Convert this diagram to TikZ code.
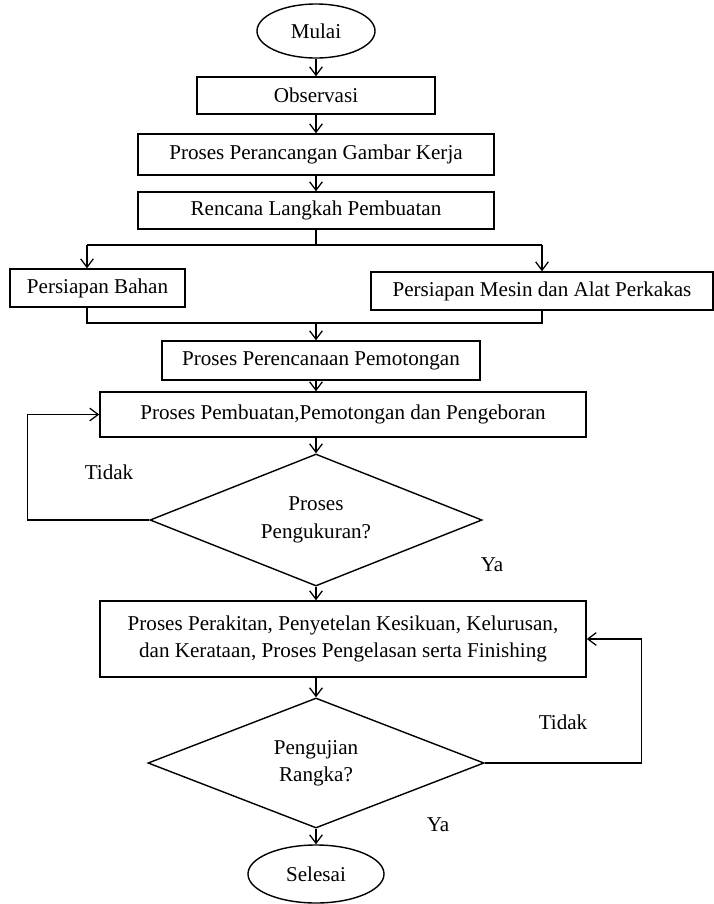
\documentclass[tikz,border=0pt]{standalone}
\usepackage{fontspec}
\setmainfont{Liberation Serif}
\usetikzlibrary{shapes.geometric, arrows.meta, positioning, calc}

\tikzset{
  box/.style={draw, line width=1pt, inner sep=2pt, align=center},
  terminal/.style={ellipse, draw, line width=1pt, inner sep=0pt},
  decision/.style={diamond, draw, line width=1pt, aspect=2.5, inner sep=0pt, align=center},
  arr/.style={-{Straight Barb[length=6pt, width=9pt]}, line width=0.9pt},
  link/.style={line width=0.9pt}
}

\begin{document}
\begin{tikzpicture}[x=0.025cm, y=-0.025cm, font=\fontsize{15}{19.5}\selectfont]
  \useasboundingbox (0,0) rectangle (714,904);
  % Start and first steps
  \node[terminal, minimum width=2.95cm, minimum height=1.35cm] (mulai) at (316,31) {Mulai};
  \node[box, minimum width=5.95cm, minimum height=0.925cm] (obs) at (316,95.5) {Observasi};
  \node[box, minimum width=8.9cm, minimum height=1.025cm] (gambar) at (316,154.5) {Proses Perancangan Gambar Kerja};
  \node[box, minimum width=8.9cm, minimum height=0.925cm] (rencana) at (316,210.5) {Rencana Langkah Pembuatan};
  % Preparation branches
  \node[box, minimum width=4.375cm, minimum height=0.95cm] (bahan) at (97.5,288) {Persiapan Bahan};
  \node[box, minimum width=8.55cm, minimum height=0.95cm] (mesin) at (542,291) {Persiapan Mesin dan Alat Perkakas};
  % Cutting and measuring
  \node[box, minimum width=7.95cm, minimum height=0.975cm] (potong) at (321,360.5) {Proses Perencanaan Pemotongan};
  \node[box, minimum width=12.15cm, minimum height=1.125cm] (buat) at (343,414.5) {Proses Pembuatan,Pemotongan dan Pengeboran};
  \node[decision, minimum width=8.3cm, minimum height=3.3cm] (ukur) at (316,520) {Proses\\Pengukuran?};
  % Assembly and test
  \node[box, minimum width=12.15cm, minimum height=1.9cm] (rakit) at (343,639) {Proses Perakitan, Penyetelan Kesikuan, Kelurusan,\\dan Kerataan, Proses Pengelasan serta Finishing};
  \node[decision, minimum width=8.4cm, minimum height=3.25cm] (uji) at (316,763) {Pengujian\\Rangka?};
  \node[terminal, minimum width=3.4cm, minimum height=1.45cm] (selesai) at (316,874) {Selesai};

  % Labels
  \node (tidakA) at (109,472) {Tidak};
  \node (yaA) at (492,565) {Ya};
  \node (tidakB) at (563,722) {Tidak};
  \node (yaB) at (438,825) {Ya};

  % Connectors
  \draw[arr] (mulai) -- (obs);
  \draw[arr] (obs) -- (gambar);
  \draw[arr] (gambar) -- (rencana);
  \coordinate (splitL) at (87,245);
  \coordinate (splitR) at (542,245);
  \draw[link] (rencana) -- (rencana |- splitL);
  \draw[link] (splitL) -- (splitR);
  \draw[arr] (splitL) -- (splitL |- bahan.north);
  \draw[arr] (splitR) -- (mesin);
  \coordinate (mergeL) at (87,323);
  \coordinate (mergeR) at (542,323);
  \draw[link] (mergeL |- bahan.south) -- (mergeL) -- (mergeR) -- (mesin);
  \draw[arr] (rencana |- mergeL) -- (rencana |- potong.north);
  \draw[arr] (potong.south -| obs) -- (buat.north -| obs);
  \draw[arr] (buat.south -| ukur) -- (ukur.north);
  \draw[arr] (ukur.south) -- (rakit.north -| ukur);
  \draw[arr] (ukur.west) -- ++(-122,0) |- (buat.west);
  \draw[arr] (rakit.south -| uji) -- (uji.north);
  \draw[arr] (uji.east) -- ++(157,0) |- (rakit.east);
  \draw[arr] (uji) -- (selesai);
\end{tikzpicture}
\end{document}
